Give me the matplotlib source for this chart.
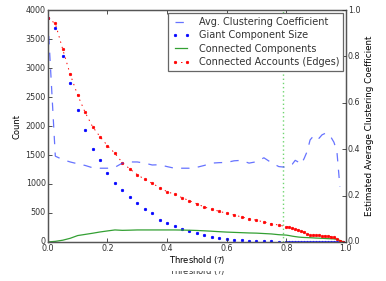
import matplotlib
matplotlib.use("Agg")
import matplotlib.pyplot as plt
from matplotlib.transforms import Bbox, TransformedBbox

# threshold grid (coarse up to 0.775, then 0.01 steps)
thresholds = [0.0, 0.025, 0.05, 0.075, 0.1, 0.125, 0.15, 0.175, 0.2, 0.225,
              0.25, 0.275, 0.3, 0.325, 0.35, 0.375, 0.4, 0.425, 0.45, 0.475,
              0.5, 0.525, 0.55, 0.575, 0.6, 0.625, 0.65, 0.675, 0.7, 0.725,
              0.75, 0.775,
              0.8, 0.81, 0.82, 0.83, 0.84, 0.85, 0.86, 0.87, 0.88, 0.89,
              0.9, 0.91, 0.92, 0.93, 0.94, 0.95, 0.96, 0.97, 0.98, 0.99]

giant_size = [3857, 3700, 3212, 2736, 2276, 1931, 1598, 1414, 1195, 1022,
              897, 770, 667, 563, 494, 374, 333, 281, 230, 188,
              152, 120, 91, 64, 46, 35, 26, 20, 15, 11, 8, 6,
              5, 5, 4, 4, 4, 4, 4, 3, 3, 3, 3, 3, 3, 3, 3, 3, 2, 2, 2, 2]

edges = [3857, 3770, 3322, 2891, 2534, 2236, 1989, 1816, 1661, 1529,
         1368, 1259, 1161, 1081, 1012, 937, 868, 822, 764, 712,
         658, 603, 563, 529, 494, 466, 431, 402, 374, 345, 316, 290,
         265, 255, 240, 225, 205, 185, 165, 138, 122, 121,
         118, 112, 106, 103, 99, 92, 80, 55, 20, 5]

components = [0, 10, 30, 63, 110, 130, 150, 172, 190, 207,
              200, 203, 207, 207, 207, 207, 207, 207, 205, 202,
              198, 192, 185, 177, 170, 165, 160, 155, 152, 145, 138, 125,
              118, 110, 100, 92, 85, 80, 77, 75, 73, 70,
              67, 65, 63, 60, 57, 55, 52, 45, 25, 5]

clustering = [0.96, 0.37, 0.355, 0.345, 0.337, 0.33, 0.32, 0.318, 0.318, 0.322,
              0.34, 0.345, 0.345, 0.34, 0.332, 0.333, 0.325, 0.318, 0.318, 0.318,
              0.322, 0.33, 0.34, 0.342, 0.343, 0.35, 0.352, 0.34, 0.346, 0.363,
              0.342, 0.325,
              0.322, 0.33, 0.335, 0.352, 0.345, 0.335, 0.36, 0.39, 0.44, 0.455,
              0.461, 0.447, 0.462, 0.468, 0.468, 0.452, 0.43, 0.39, 0.238]

chosen_threshold = 0.79
xlabel = r"Threshold ($\mathcal{T}$)"

plt.style.use("classic")
plt.rcParams["text.color"] = "#333333"
plt.rcParams["xtick.color"] = "#333333"
plt.rcParams["ytick.color"] = "#333333"

fig = plt.figure(figsize=(3.86, 2.81), dpi=100, facecolor="white")
ax = fig.add_axes([0.124, 0.139, 0.772, 0.825])
ax2 = ax.twinx()

l_giant, = ax.plot(thresholds, giant_size, "b.", ms=3.6, mec="b",
                   label="Giant Component Size")
l_comp, = ax.plot(thresholds, components, color="#33a033", lw=0.9,
                  label="Connected Components")
l_edges, = ax.plot(thresholds, edges, color="r", ls=":", lw=0.7, marker=".",
                   ms=3.6, mec="r", label="Connected Accounts (Edges)")
ax.axvline(chosen_threshold, color="#33c433", ls=(0, (1, 2)), lw=1.0, alpha=0.7)

l_clust, = ax2.plot(thresholds[:len(clustering)], clustering, color="#3344ff",
                    ls="--", lw=0.9, alpha=0.75, label="Avg. Clustering Coefficient")

ax.set_xlim(0, 1)
ax.set_ylim(0, 4000)
ax2.set_ylim(0, 1)
ax.set_xticks([0, 0.2, 0.4, 0.6, 0.8, 1.0])
ax.set_yticks(range(0, 4001, 500))
ax2.set_yticks([0, 0.2, 0.4, 0.6, 0.8, 1.0])

for a in (ax, ax2):
    a.tick_params(labelsize=5.8, length=3, width=0.6, pad=1.5)
    for s in a.spines.values():
        s.set_color("#555555")
        s.set_linewidth(0.9)

ax.set_xlabel(xlabel, fontsize=6, labelpad=1)
ax.set_ylabel("Count", fontsize=6, labelpad=3)
ax2.set_ylabel("Estimated Average Clustering Coefficient", fontsize=6.3, labelpad=3)

# duplicate of the x label, only its lower half shows at the bottom edge
dup = fig.text(0.51, 1 - 271 / 281, xlabel, ha="center", va="center", fontsize=6)
dup.set_clip_box(TransformedBbox(Bbox.from_bounds(0, 0, 1, 10.5 / 281), fig.transFigure))
dup.set_clip_on(True)

leg = ax2.legend([l_clust, l_giant, l_comp, l_edges],
                 [h.get_label() for h in (l_clust, l_giant, l_comp, l_edges)],
                 loc="upper right", fontsize=7, borderaxespad=0.3,
                 handlelength=1.8, handletextpad=0.9, labelspacing=0.35,
                 borderpad=0.4, numpoints=2)
leg.get_frame().set_edgecolor("#666666")
leg.get_frame().set_linewidth(0.9)

fig.savefig("out.png", dpi=100, facecolor="white")
